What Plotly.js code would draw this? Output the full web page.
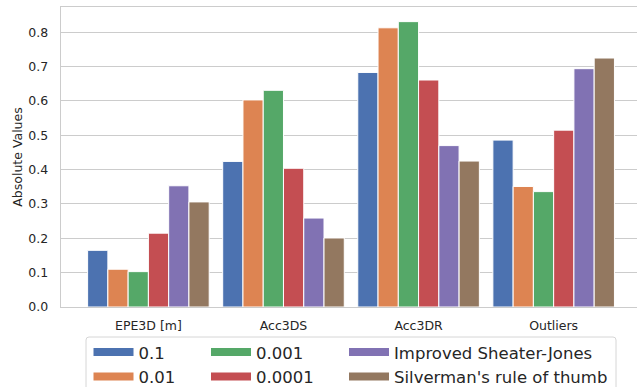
<!DOCTYPE html>
<html>
<head>
<meta charset="utf-8">
<script src="https://cdn.plot.ly/plotly-3.0.1.min.js"></script>
<style>
  html, body { margin: 0; padding: 0; background: #ffffff; }
  #chart { width: 637px; height: 387px; }
</style>
</head>
<body>
<div id="chart"></div>
<script>
// ---- data ----
const categories = ["EPE3D [m]", "Acc3DS", "Acc3DR", "Outliers"];
const seriesNames = ["0.1", "0.01", "0.001", "0.0001", "Improved Sheater-Jones", "Silverman's rule of thumb"];
const s_0_1      = [0.165, 0.424, 0.683, 0.486];
const s_0_01     = [0.110, 0.603, 0.813, 0.351];
const s_0_001    = [0.103, 0.631, 0.831, 0.336];
const s_0_0001   = [0.215, 0.404, 0.661, 0.515];
const s_isj      = [0.353, 0.259, 0.470, 0.694];
const s_silver   = [0.306, 0.201, 0.425, 0.725];
const seriesValues = [s_0_1, s_0_01, s_0_001, s_0_0001, s_isj, s_silver];
const colors = ["#4c72b0", "#dd8452", "#55a868", "#c44e52", "#8172b3", "#937860"];
const legendOf = ["legend", "legend", "legend2", "legend2", "legend3", "legend3"];

const traces = [];
seriesValues.forEach((vals, i) => {
  traces.push({
    type: "bar",
    x: categories,
    y: vals,
    name: seriesNames[i],
    marker: { color: colors[i], line: { color: "#ffffff", width: 1 } },
    showlegend: false,
    hoverinfo: "x+y+name"
  });
});
// legend proxies (wide bar swatches like matplotlib)
seriesValues.forEach((vals, i) => {
  traces.push({
    type: "scatter",
    mode: "lines",
    x: [null],
    y: [null],
    name: seriesNames[i],
    line: { color: colors[i], width: 8 },
    legend: legendOf[i],
    showlegend: true,
    hoverinfo: "skip"
  });
});

const FONT = "DejaVu Sans, Liberation Sans, sans-serif";
const TXT = "#262626";
const legendBase = {
  orientation: "v",
  yanchor: "top",
  xanchor: "left",
  y: -0.093,
  bgcolor: "rgba(0,0,0,0)",
  borderwidth: 0,
  itemwidth: 40,
  tracegroupgap: 0,
  font: { family: FONT, size: 16.5, color: TXT },
  itemclick: false,
  itemdoubleclick: false
};

// rounded legend frame (paper coords; plot area is 576 x 300 px)
const fx0 = (86 - 61) / 576, fx1 = (616 - 61) / 576;
const fy0 = (307 - 337) / 300, fy1 = -0.40;
const rx = 3 / 576, ry = 3 / 300;
const framePath =
  `M${fx0 + rx},${fy0} L${fx1 - rx},${fy0} Q${fx1},${fy0} ${fx1},${fy0 - ry} ` +
  `L${fx1},${fy1} L${fx0},${fy1} L${fx0},${fy0 - ry} Q${fx0},${fy0} ${fx0 + rx},${fy0} Z`;

const layout = {
  width: 637,
  height: 387,
  margin: { l: 61, r: 0, t: 7, b: 80, autoexpand: false },
  paper_bgcolor: "#ffffff",
  plot_bgcolor: "#ffffff",
  font: { family: FONT, size: 12.5, color: TXT },
  barmode: "group",
  bargap: 0.1,
  bargroupgap: 0,
  xaxis: {
    type: "category",
    range: [-0.647, 3.617],
    showgrid: false,
    zeroline: false,
    showline: true,
    linecolor: "#cccccc",
    linewidth: 1.25,
    mirror: true,
    ticks: "",
    ticklabelstandoff: 7,
    tickfont: { family: FONT, size: 12.5, color: TXT }
  },
  yaxis: {
    range: [0, 0.8736],
    dtick: 0.1,
    tick0: 0,
    tickformat: ".1f",
    showgrid: true,
    gridcolor: "#cccccc",
    gridwidth: 1,
    zeroline: false,
    showline: true,
    linecolor: "#cccccc",
    linewidth: 1.25,
    mirror: true,
    ticks: "",
    ticklabelstandoff: 9,
    tickfont: { family: FONT, size: 12.5, color: TXT },
    title: { text: "Absolute Values", font: { family: FONT, size: 12.5, color: TXT }, standoff: 3 }
  },
  legend: Object.assign({}, legendBase, { x: (88.5 - 61) / 576 }),
  legend2: Object.assign({}, legendBase, { x: (206 - 61) / 576 }),
  legend3: Object.assign({}, legendBase, { x: (344 - 61) / 576 }),
  shapes: [{
    type: "path",
    xref: "paper",
    yref: "paper",
    path: framePath,
    line: { color: "#d6d6d6", width: 1 },
    fillcolor: "rgba(0,0,0,0)",
    layer: "above"
  }]
};

Plotly.newPlot("chart", traces, layout, { displayModeBar: false, staticPlot: true });
</script>
</body>
</html>
